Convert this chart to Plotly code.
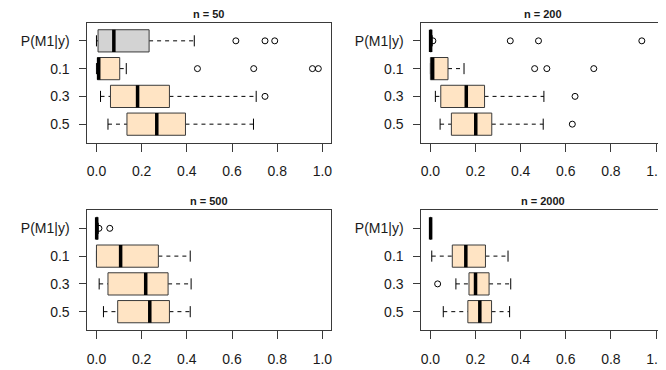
import plotly.graph_objects as go

# ---- data ----
row_labels = ["P(M1|y)", "0.1", "0.3", "0.5"]
row_pos = [4, 3, 2, 1]
fills = ["#D3D3D3", "#FFE4C4", "#FFE4C4", "#FFE4C4"]
titles = ["n = 50", "n = 200", "n = 500", "n = 2000"]
x_ticks = [0.0, 0.2, 0.4, 0.6, 0.8, 1.0]

# n = 50
lo_50 = [0.0, 0.0, 0.018, 0.051]
q1_50 = [0.007, 0.004, 0.062, 0.135]
med_50 = [0.077, 0.010, 0.182, 0.267]
q3_50 = [0.233, 0.103, 0.323, 0.394]
hi_50 = [0.433, 0.132, 0.707, 0.695]
out_50 = [[0.617, 0.746, 0.789], [0.447, 0.696, 0.956, 0.982], [0.746], []]

# n = 200
lo_200 = [0.0, 0.0, 0.022, 0.043]
q1_200 = [0.0, 0.0, 0.046, 0.093]
med_200 = [0.001, 0.010, 0.159, 0.201]
q3_200 = [0.004, 0.078, 0.240, 0.272]
hi_200 = [0.008, 0.149, 0.503, 0.500]
out_200 = [[0.011, 0.354, 0.479, 0.937], [0.462, 0.516, 0.724], [0.641], [0.629]]

# n = 500
lo_500 = [0.0, 0.0, 0.012, 0.031]
q1_500 = [0.0, 0.0, 0.051, 0.094]
med_500 = [0.001, 0.107, 0.218, 0.236]
q3_500 = [0.005, 0.274, 0.317, 0.323]
hi_500 = [0.008, 0.415, 0.419, 0.415]
out_500 = [[0.011, 0.059], [], [], []]

# n = 2000
lo_2000 = [0.0, 0.006, 0.113, 0.057]
q1_2000 = [0.0, 0.097, 0.171, 0.166]
med_2000 = [0.001, 0.157, 0.200, 0.219]
q3_2000 = [0.003, 0.244, 0.260, 0.271]
hi_2000 = [0.005, 0.344, 0.356, 0.351]
out_2000 = [[], [], [0.032], []]

panels = [
    (lo_50, q1_50, med_50, q3_50, hi_50, out_50),
    (lo_200, q1_200, med_200, q3_200, hi_200, out_200),
    (lo_500, q1_500, med_500, q3_500, hi_500, out_500),
    (lo_2000, q1_2000, med_2000, q3_2000, hi_2000, out_2000),
]

# ---- layout geometry ----
OFF = 8  # page body margin
W, H = 666 - OFF, 370 - OFF
BOX_H = 0.4
STAPLE_H = 0.2
LINE_C = "#3a3a3a"


def px(sx):
    return (sx - OFF) / W


def py(sy):
    return (H - (sy - OFF)) / H


x_dom = [[px(86.9), px(332.4)], [px(422.9), 1.0]]
x_rng = [[-0.04, 1.04], [-0.04, (666 - 432.0) / 227.0]]
y_dom = [[py(142.5), py(22.5)], [py(330.0), py(210.0)]]
y_rng = [0.34, 4.66]

fig = go.Figure()

for k, (lo, q1, med, q3, hi, outs) in enumerate(panels):
    r, c = divmod(k, 2)
    xa = "x" if k == 0 else f"x{k+1}"
    ya = "y" if k == 0 else f"y{k+1}"
    for i in range(len(row_labels)):
        y = row_pos[i]
        # whiskers (dashed)
        fig.add_trace(go.Scatter(
            x=[lo[i], q1[i], None, q3[i], hi[i]], y=[y, y, None, y, y],
            mode="lines", line=dict(color="black", width=1, dash="4px,4px"),
            xaxis=xa, yaxis=ya, showlegend=False, hoverinfo="skip"))
        # staples
        fig.add_trace(go.Scatter(
            x=[lo[i], lo[i], None, hi[i], hi[i]],
            y=[y - STAPLE_H, y + STAPLE_H, None, y - STAPLE_H, y + STAPLE_H],
            mode="lines", line=dict(color="black", width=1),
            xaxis=xa, yaxis=ya, showlegend=False, hoverinfo="skip"))
        # box
        fig.add_trace(go.Scatter(
            x=[q1[i], q3[i], q3[i], q1[i], q1[i]],
            y=[y - BOX_H, y - BOX_H, y + BOX_H, y + BOX_H, y - BOX_H],
            mode="lines", fill="toself", fillcolor=fills[i],
            line=dict(color=LINE_C, width=1),
            xaxis=xa, yaxis=ya, showlegend=False, hoverinfo="skip"))
        # median
        fig.add_trace(go.Scatter(
            x=[med[i], med[i]], y=[y - BOX_H, y + BOX_H],
            mode="lines", line=dict(color="black", width=3.5),
            xaxis=xa, yaxis=ya, showlegend=False, hoverinfo="skip"))
        # outliers
        if outs[i]:
            fig.add_trace(go.Scatter(
                x=outs[i], y=[y] * len(outs[i]), mode="markers",
                marker=dict(symbol="circle-open", size=6, color="black",
                            line=dict(width=1, color="black")),
                xaxis=xa, yaxis=ya, showlegend=False, hoverinfo="skip"))

    axis_font = dict(family="Liberation Sans, Arial, sans-serif", size=14, color="#1a1a1a")
    fig.layout[("xaxis" if k == 0 else f"xaxis{k+1}")] = dict(
        domain=x_dom[c], range=x_rng[c], anchor=ya,
        tickvals=x_ticks, tickformat=".1f", ticks="outside", ticklen=8,
        tickcolor=LINE_C, showgrid=False, zeroline=False,
        showline=True, linecolor=LINE_C, linewidth=1, mirror=True,
        tickfont=axis_font, ticklabelstandoff=8, ticklabeloverflow="allow",
        fixedrange=True)
    fig.layout[("yaxis" if k == 0 else f"yaxis{k+1}")] = dict(
        domain=y_dom[r], range=y_rng, anchor=xa,
        tickvals=row_pos, ticktext=row_labels, ticks="outside", ticklen=7,
        tickcolor=LINE_C, showgrid=False, zeroline=False,
        showline=True, linecolor=LINE_C, linewidth=1,
        mirror=(c == 0), tickfont=axis_font, ticklabelstandoff=7,
        fixedrange=True)

    # title centered over full frame
    x_center = px([(86.9 + 332.4) / 2, (422.9 + 668.0) / 2][c])
    y_title = py([14.0, 201.0][r])
    fig.add_annotation(text="<b>" + titles[k] + "</b>", xref="paper", yref="paper",
                       x=x_center, y=y_title, xanchor="center", yanchor="middle",
                       showarrow=False,
                       font=dict(family="Liberation Sans, Arial, sans-serif", size=11, color="#1a1a1a"))

fig.update_layout(width=W, height=H, margin=dict(l=0, r=0, t=0, b=0),
                  paper_bgcolor="white", plot_bgcolor="white")

fig.write_html("out.html")
